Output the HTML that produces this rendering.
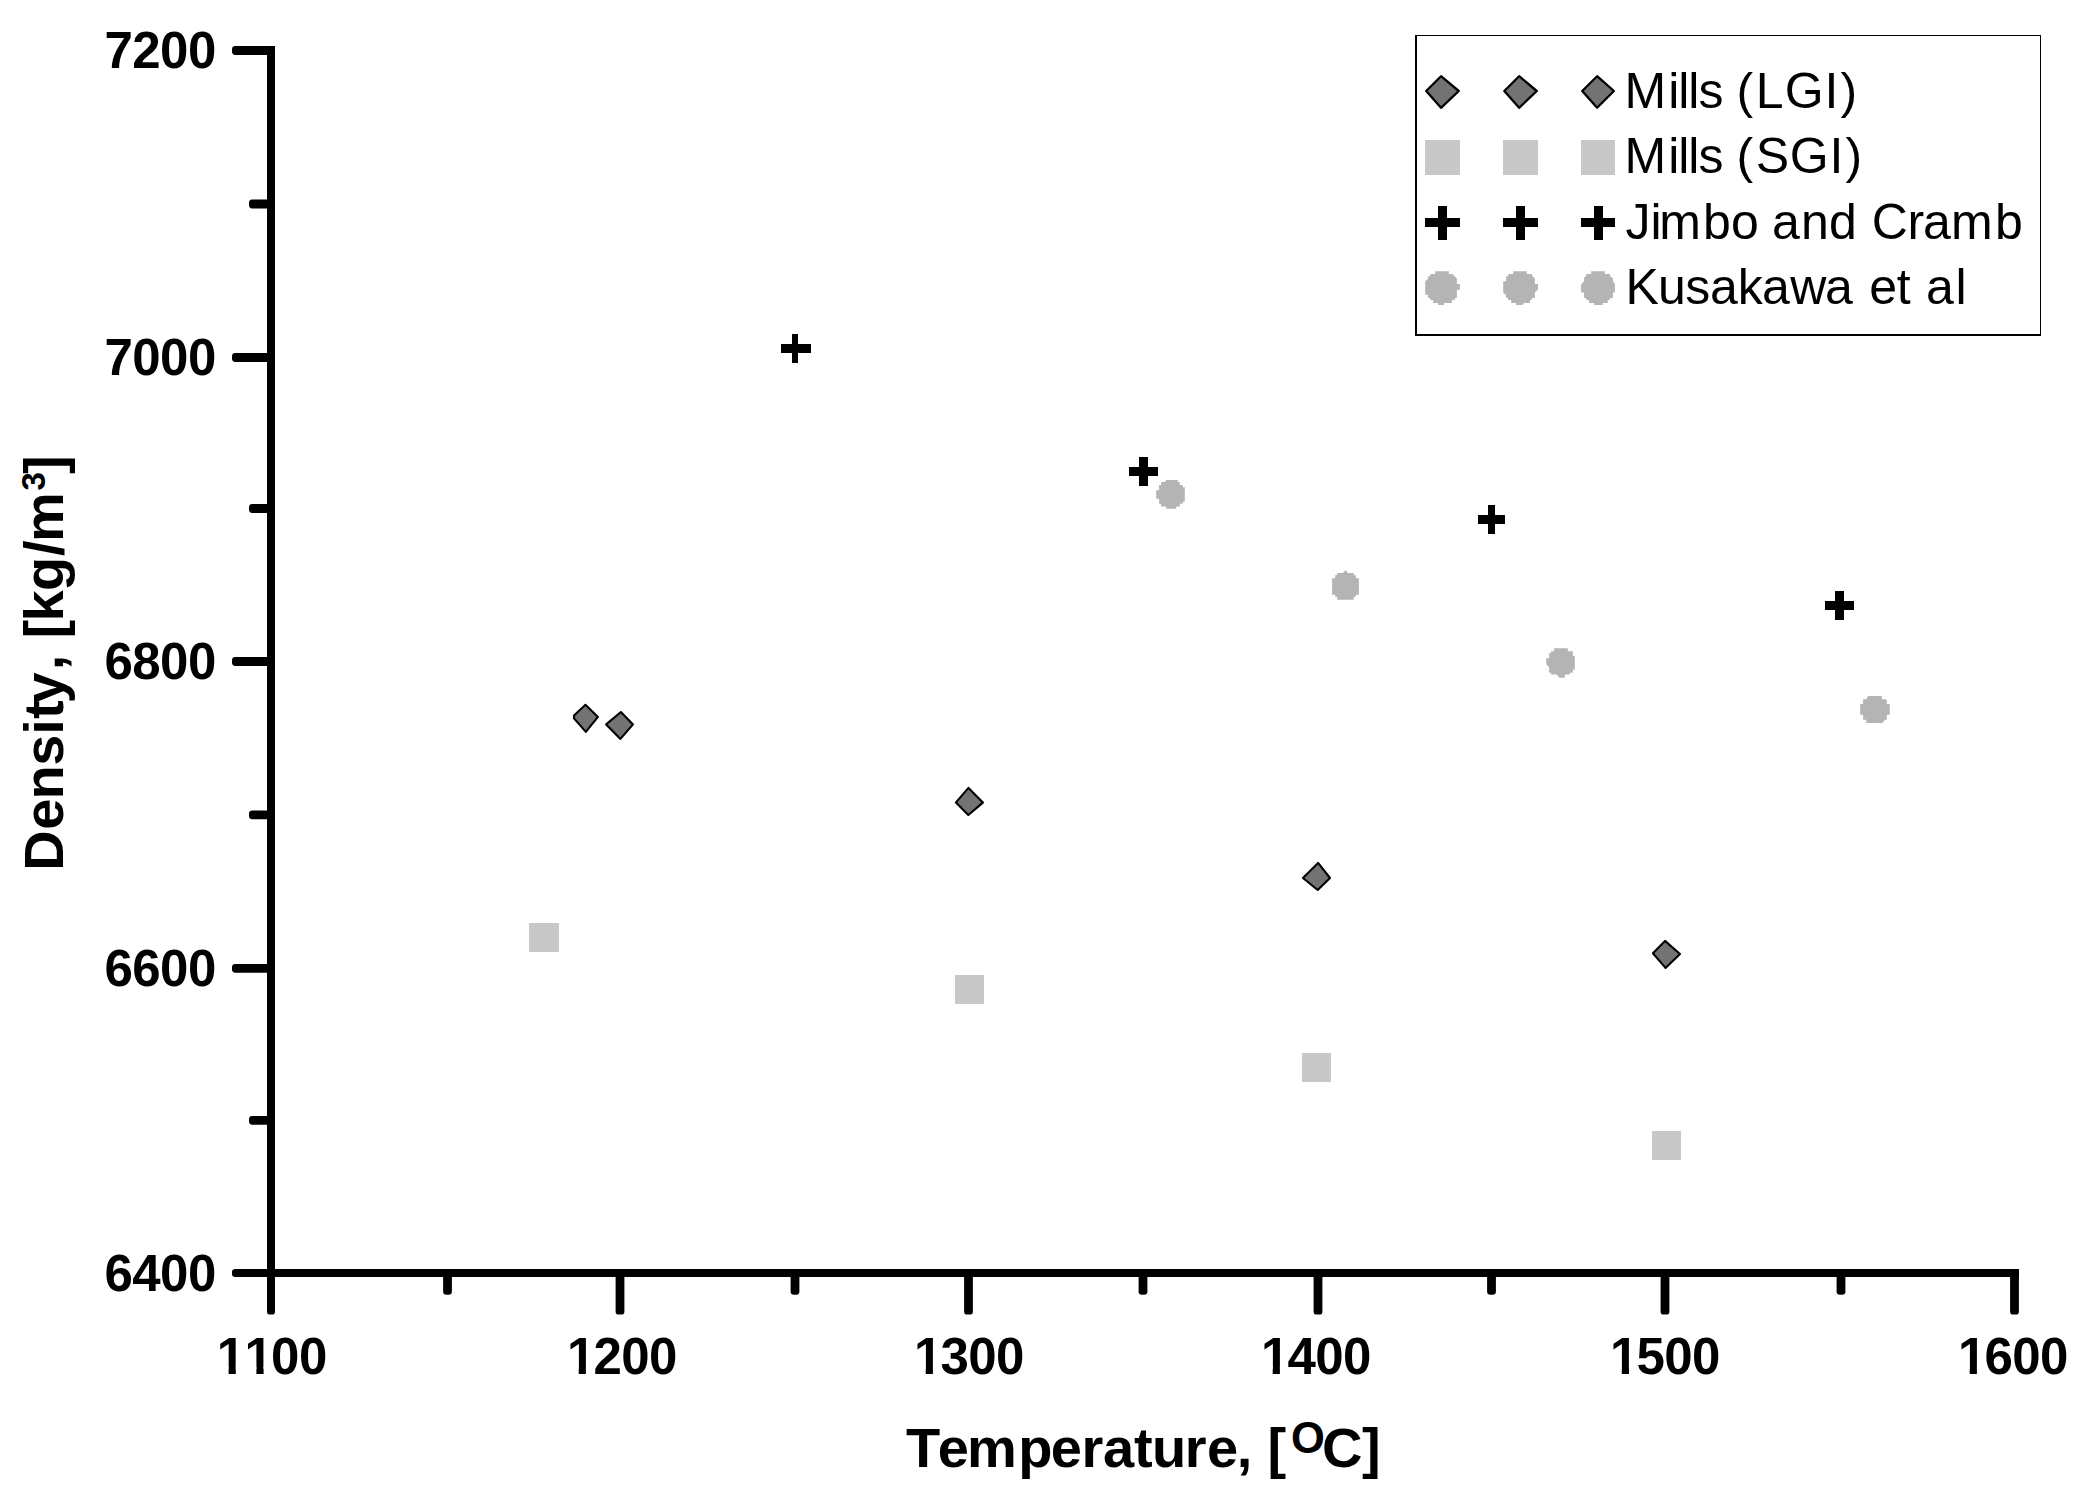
<!DOCTYPE html>
<html lang="en">
<head>
<meta charset="utf-8">
<title>Density vs Temperature</title>
<style>
html,body{margin:0;padding:0;background:#fff;}
body{width:2082px;height:1495px;overflow:hidden;}
svg{display:block;}
text{font-family:"Liberation Sans",Arial,sans-serif;fill:#000;}
.b{font-weight:bold;}
.tk{font-size:51px;font-weight:bold;}
.lg{font-size:50px;}
.ax{font-size:56px;font-weight:bold;}
</style>
</head>
<body>
<svg width="2082" height="1495" viewBox="0 0 2082 1495">
<rect x="0" y="0" width="2082" height="1495" fill="#fff"/>

<!-- axes -->
<g stroke="#000" stroke-width="8" fill="none" stroke-linecap="butt">
  <line x1="271" y1="46" x2="271" y2="1311"/>
  <line x1="236" y1="1273" x2="2019" y2="1273"/>
</g>
<g fill="#000">
  <!-- y major ticks -->
  <rect x="232" y="46.1" width="40" height="8.8" rx="3.2" ry="3.4"/>
  <rect x="232" y="353.1" width="40" height="8.8" rx="3.2" ry="3.4"/>
  <rect x="232" y="657.1" width="40" height="8.8" rx="3.2" ry="3.4"/>
  <rect x="232" y="963.9" width="40" height="8.8" rx="3.2" ry="3.4"/>
  <rect x="232" y="1269" width="40" height="8" rx="3.2" ry="3.2"/>
  <!-- y minor ticks -->
  <rect x="249" y="199.6" width="23" height="8.8" rx="3.2" ry="3.4"/>
  <rect x="249" y="504.1" width="23" height="8.8" rx="3.2" ry="3.4"/>
  <rect x="249" y="810.4" width="23" height="8.8" rx="3.2" ry="3.4"/>
  <rect x="249" y="1115.9" width="23" height="8.8" rx="3.2" ry="3.4"/>
  <!-- x major ticks -->
  <rect x="267" y="1272" width="8" height="42.6" rx="3.2" ry="3.2"/>
  <rect x="615.6" y="1272" width="8.8" height="42.6" rx="3.4" ry="3.2"/>
  <rect x="964.1" y="1272" width="8.8" height="42.6" rx="3.4" ry="3.2"/>
  <rect x="1313.6" y="1272" width="8.8" height="42.6" rx="3.4" ry="3.2"/>
  <rect x="1660.6" y="1272" width="8.8" height="42.6" rx="3.4" ry="3.2"/>
  <rect x="2010.1" y="1272" width="8.8" height="42.6" rx="3.4" ry="3.2"/>
  <!-- x minor ticks -->
  <rect x="443.1" y="1272" width="8.8" height="22.8" rx="3.4" ry="3.2"/>
  <rect x="790.6" y="1272" width="8.8" height="22.8" rx="3.4" ry="3.2"/>
  <rect x="1138.6" y="1272" width="8.8" height="22.8" rx="3.4" ry="3.2"/>
  <rect x="1487.1" y="1272" width="8.8" height="22.8" rx="3.4" ry="3.2"/>
  <rect x="1836.6" y="1272" width="8.8" height="22.8" rx="3.4" ry="3.2"/>
</g>
<!-- square corners -->
<rect x="267" y="46" width="8" height="9" fill="#000"/>
<rect x="2010" y="1269" width="9" height="9" fill="#000"/>

<!-- y tick labels -->
<g class="tk">
  <text x="104.5 132.3 160.1 187.9" y="68.2">7200</text>
  <text x="104.5 132.3 160.1 187.9" y="375">7000</text>
  <text x="104.5 132.3 160.1 187.9" y="679">6800</text>
  <text x="104.5 132.3 160.1 187.9" y="985.6">6600</text>
  <text x="104.5 132.3 160.1 187.9" y="1291.2">6400</text>
</g>
<!-- x tick labels -->
<g class="tk">
  <text x="216.8 244.6 271.1 298.9" y="1374.2">1100</text>
  <text x="566.9 593.4 621.2 649.0" y="1374.2">1200</text>
  <text x="913.9 940.4 968.2 996.0" y="1374.2">1300</text>
  <text x="1260.9 1287.4 1315.2 1343.0" y="1374.2">1400</text>
  <text x="1610.0 1636.5 1664.3 1692.1" y="1374.2">1500</text>
  <text x="1957.9 1984.4 2012.2 2040.0" y="1374.2">1600</text>
</g>
<g fill="#fff">
  <rect x="218.00" y="1367" width="10.60" height="8.2"/>
  <rect x="235.80" y="1367" width="8.40" height="8.2"/>
  <rect x="245.80" y="1367" width="10.60" height="8.2"/>
  <rect x="263.60" y="1367" width="8.40" height="8.2"/>
  <rect x="568.10" y="1367" width="10.60" height="8.2"/>
  <rect x="585.90" y="1367" width="8.40" height="8.2"/>
  <rect x="915.10" y="1367" width="10.60" height="8.2"/>
  <rect x="932.90" y="1367" width="8.40" height="8.2"/>
  <rect x="1262.10" y="1367" width="10.60" height="8.2"/>
  <rect x="1279.90" y="1367" width="8.40" height="8.2"/>
  <rect x="1611.20" y="1367" width="10.60" height="8.2"/>
  <rect x="1629.00" y="1367" width="8.40" height="8.2"/>
  <rect x="1959.10" y="1367" width="10.60" height="8.2"/>
  <rect x="1976.90" y="1367" width="8.40" height="8.2"/>
</g>

<!-- axis titles -->
<text class="ax" x="905.9 937.7 967.1 1018.2 1050.7 1081.5 1102.9 1133.9 1152.1 1184.8 1206.9 1236.7 1252.3 1267.6 1290.9 1321.9 1361.9" y="1467">Temperature, [<tspan font-size="43.5" dy="-13.9">O</tspan><tspan dy="13.9">C]</tspan></text>
<text class="ax" transform="translate(63,868) rotate(-90)" x="-2.8 38.2 68.4 102.2 133.2 148.9 164.6 197.8 213.3 229.5 246.5 276.9 311.9 326.0 377.5 393.9" y="0">Density, [kg/m<tspan font-size="33" dy="-18">3</tspan><tspan dy="18">]</tspan></text>

<!-- series - Mills (SGI) squares -->
<g fill="#c8c8c8">
  <rect x="529" y="923" width="30" height="29"/>
  <rect x="955" y="975" width="29" height="29"/>
  <rect x="1302" y="1053" width="29" height="29"/>
  <rect x="1652" y="1131" width="29" height="29"/>
</g>
<!-- series - Kusakawa circles -->
<g fill="#b4b4b4">
  <polygon points="1166.2,480.0 1177.8,480.0 1177.8,482.1 1179.9,482.1 1179.9,485.1 1182.8,485.1 1182.8,487.2 1184.8,487.2 1184.8,501.8 1182.8,501.8 1182.8,503.8 1179.9,503.8 1179.9,506.6 1176.7,506.6 1175.8,508.8 1166.2,508.8 1166.2,506.6 1161.1,506.6 1161.1,503.8 1159.1,503.8 1159.1,498.8 1156.2,498.8 1156.2,490.2 1159.1,490.2 1159.1,485.1 1161.1,485.1 1161.1,482.1 1165.1,482.1"/>
  <polygon points="1345.4,570.1 1347.9,573.1 1353.8,573.1 1353.8,575.2 1355.9,575.2 1355.9,578.2 1358.9,578.2 1358.9,594.8 1355.9,594.8 1355.9,596.8 1353.8,596.8 1353.8,599.8 1337.2,599.8 1337.2,596.8 1335.2,596.8 1335.2,594.8 1332.1,594.8 1332.1,578.2 1335.2,578.2 1335.2,575.2 1337.2,575.2 1337.2,573.1 1343.0,573.1"/>
  <polygon points="1554.1,648.2 1567.8,648.2 1567.8,651.2 1572.8,651.2 1572.8,656.1 1574.8,656.1 1574.8,669.8 1572.8,669.8 1572.8,672.7 1569.8,672.7 1569.8,674.6 1564.8,674.6 1564.8,677.8 1559.2,677.8 1556.9,674.6 1551.1,674.6 1551.1,672.7 1549.1,672.7 1549.1,667.0 1546.2,664.6 1546.2,658.2 1549.1,658.2 1549.1,653.1 1551.1,653.1 1551.1,651.2 1554.1,651.2"/>
  <polygon points="1868.3,696.1 1881.8,696.1 1881.8,699.2 1885.7,699.2 1886.8,700.2 1886.8,704.1 1889.8,704.1 1889.8,714.8 1886.8,714.8 1886.8,719.7 1885.0,719.7 1882.5,722.9 1866.2,722.9 1866.2,719.7 1863.1,719.7 1863.1,714.8 1860.2,714.8 1860.2,704.1 1863.1,704.1 1863.1,699.2 1866.1,699.2"/>
</g>
<!-- series - Mills (LGI) diamonds -->
<g fill="#737373" stroke="#000" stroke-width="2.1" stroke-linejoin="round">
  <polygon points="585.45,704.8 597.95,716.9 585.85,731.85 574,718.4 574,715.4"/>
  <polygon points="620.9,712.05 633,724.4 620.45,738.9 606.1,724.4"/>
  <polygon points="968.5,787.9 982.9,802.6 968.3,814.95 955.95,802.4"/>
  <polygon points="1318.1,862.9 1330,878 1317.7,889.95 1302.95,878"/>
  <polygon points="1665,940.9 1680,954 1665.5,967.9 1652.95,953.3"/>
</g>
<!-- series - Jimbo and Cramb plus -->
<g fill="#000">
  <rect x="781" y="344" width="30" height="9"/><rect x="792" y="334" width="6" height="29"/>
  <rect x="1129" y="467" width="29" height="9"/><rect x="1139" y="457" width="9" height="29"/>
  <rect x="1478" y="515" width="27" height="9"/><rect x="1488" y="505" width="7" height="29"/>
  <rect x="1825" y="601" width="29" height="9"/><rect x="1835" y="591" width="9" height="29"/>
</g>

<!-- legend -->
<rect x="1415" y="35" width="626" height="301" fill="#000"/>
<rect x="1417" y="36" width="623" height="298" fill="#fff"/>
<g fill="#737373" stroke="#000" stroke-width="2.3" stroke-linejoin="round">
  <polygon points="1441,76.2 1458.8,91 1441,107.8 1426.2,91"/>
  <polygon points="1519.1,76.2 1536.8,91 1519.1,107.8 1504.3,91"/>
  <polygon points="1597.1,76.2 1613.9,91 1597.1,107.8 1582.2,91"/>
</g>
<g fill="#c8c8c8">
  <rect x="1425" y="140" width="35" height="35"/>
  <rect x="1503" y="140" width="35" height="35"/>
  <rect x="1581" y="140" width="34" height="35"/>
</g>
<g fill="#000">
  <rect x="1425" y="218" width="35" height="9"/><rect x="1438" y="206" width="9" height="34"/>
  <rect x="1503" y="218" width="35" height="9"/><rect x="1516" y="206" width="9" height="34"/>
  <rect x="1581" y="218" width="34" height="9"/><rect x="1594" y="206" width="9" height="34"/>
</g>
<g fill="#b4b4b4">
  <polygon points="1435.2,271.2 1448.8,271.2 1448.8,274.0 1452.5,274.0 1456.9,278.4 1456.9,284.0 1459.9,284.0 1459.9,289.7 1456.9,289.7 1456.9,297.9 1454.9,297.9 1454.9,300.0 1451.9,300.0 1451.9,302.9 1443.9,302.9 1443.9,304.9 1438.2,304.9 1438.2,302.9 1433.1,302.9 1433.1,300.0 1430.2,300.0 1430.2,297.9 1428.0,297.9 1428.0,294.8 1425.2,294.8 1425.2,281.4 1428.0,278.7 1428.0,276.2 1430.2,276.2 1430.2,274.0 1435.2,274.0"/>
  <polygon points="1513.2,271.2 1526.8,271.2 1526.8,274.0 1532.0,274.0 1532.0,275.7 1534.9,278.4 1534.9,284.0 1538.0,284.0 1538.0,289.5 1534.9,292.3 1534.9,297.9 1532.0,297.9 1532.0,300.0 1529.9,300.0 1529.9,302.9 1523.9,302.9 1522.5,304.9 1516.2,304.9 1516.2,302.9 1511.2,302.9 1511.2,300.0 1508.2,300.0 1508.2,297.9 1506.1,297.9 1506.1,295.2 1503.2,292.6 1503.2,281.2 1506.1,281.2 1506.1,276.2 1508.2,276.2 1508.2,274.0 1513.2,274.0"/>
  <polygon points="1591.2,271.2 1604.9,271.2 1604.9,274.0 1609.9,274.0 1609.9,275.7 1612.9,278.4 1612.9,281.2 1614.9,283.7 1614.9,292.6 1612.9,292.6 1612.9,297.9 1609.9,297.9 1609.9,300.0 1607.7,300.0 1607.7,302.9 1602.8,302.9 1602.8,304.9 1594.1,304.9 1594.1,302.9 1589.1,302.9 1589.1,300.0 1586.2,300.0 1586.2,297.9 1584.1,297.9 1584.1,292.6 1581.1,292.6 1581.1,284.2 1584.1,281.2 1584.1,277.8 1586.2,275.7 1586.2,274.0 1591.2,274.0"/>
</g>
<g class="lg">
  <text x="1624.6 1668.3 1678.3 1688.3 1698.4 1723.4 1736.5 1755.8 1784.7 1824.6 1840.5" y="107.8">Mills (LGI)</text>
  <text x="1624.6 1668.3 1678.3 1688.3 1698.4 1723.4 1736.5 1755.7 1789.7 1829.6 1845.5" y="173.3">Mills (SGI)</text>
  <text x="1625.4 1650.4 1659.2 1703.0 1731.1 1758.9 1772.0 1801.1 1829.1 1856.9 1871.7 1907.4 1923.0 1951.1 1995.1" y="239">Jimbo and Cramb</text>
  <text x="1625.4 1658.1 1685.2 1710.0 1737.7 1762.0 1790.2 1825.0 1852.8 1869.2 1896.7 1910.6 1925.9 1955.4" y="304">Kusakawa et al</text>
</g>
</svg>
</body>
</html>
